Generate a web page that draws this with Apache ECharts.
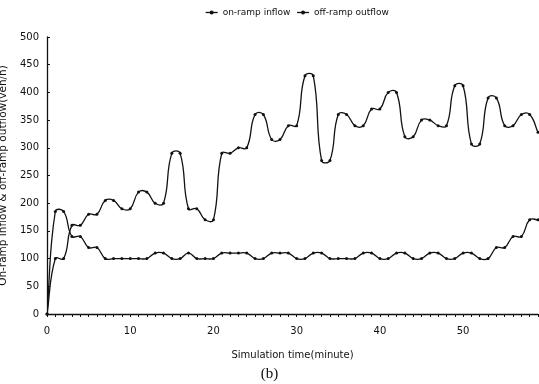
<!DOCTYPE html>
<html><head><meta charset="utf-8">
<script src="https://cdn.jsdelivr.net/npm/echarts@6/dist/echarts.min.js"></script>
<style>html,body{margin:0;padding:0;background:#fff}#c{width:539px;height:384px}</style>
</head><body><div id="c"></div>
<script>
const minutes = Array.from({length:60},(_,i)=>String(i));
const onRampInflow = [0,100,100,160,160,180,180,205,205,190,190,220,220,200,200,290,290,190,190,170,
  170,290,290,300,300,360,360,315,315,340,340,430,430,277,277,360,360,340,340,370,
  370,400,400,320,320,350,350,340,340,412,412,307,307,390,390,340,340,360,360,328];
const offRampOutflow = [0,185,185,140,140,120,120,100,100,100,100,100,100,110,110,100,100,110,100,100,
  100,110,110,110,110,100,100,110,110,110,100,100,110,110,100,100,100,100,110,110,
  100,100,110,110,100,100,110,110,100,100,110,110,100,100,120,120,140,140,170,170];
const yTicks = {min:0,max:500,step:50};
const xLabelStep = 10;

const chart = echarts.init(document.getElementById('c'));
const font = 'DejaVu Sans';
const ink = '#111';

// Excel-like smoothed curve through points mapped by the chart's own axes
function smoothCurve(values){
  return function(params, api){
    if (params.dataIndex !== 0) return null;
    const pts = values.map((v,i)=>api.coord([i, v]));
    const n = pts.length, t = 0.4;
    const dirs = pts.map((p,i)=>{
      const a = pts[Math.max(0,i-1)], b = pts[Math.min(n-1,i+1)];
      const dx = b[0]-a[0], dy = b[1]-a[1], l = Math.hypot(dx,dy) || 1;
      return [dx/l, dy/l];
    });
    let d = 'M' + pts[0][0] + ' ' + pts[0][1];
    for (let i=0;i<n-1;i++){
      const p1 = pts[i], p2 = pts[i+1];
      const L = Math.hypot(p2[0]-p1[0], p2[1]-p1[1]) * t;
      const c1 = [p1[0] + dirs[i][0]*L, p1[1] + dirs[i][1]*L];
      const c2 = [p2[0] - dirs[i+1][0]*L, p2[1] - dirs[i+1][1]*L];
      d += 'C' + c1[0] + ' ' + c1[1] + ' ' + c2[0] + ' ' + c2[1] + ' ' + p2[0] + ' ' + p2[1];
    }
    return {type:'path', shape:{pathData:d}, style:{stroke:ink, fill:null, lineWidth:1.3}, silent:true};
  };
}

const legendLine = {color:ink,width:1.3,opacity:1};
chart.setOption({
  animation:false,
  backgroundColor:'#fff',
  title:{text:'(b)',left:'center',top:362,textStyle:{fontFamily:'Liberation Serif',fontSize:15,fontWeight:'normal',color:ink}},
  legend:{top:3,left:200,itemWidth:12,itemHeight:5,itemGap:6,
    textStyle:{fontFamily:font,fontSize:9,color:ink},
    data:[{name:'on-ramp inflow',lineStyle:legendLine},{name:'off-ramp outflow',lineStyle:legendLine}]},
  grid:{left:47,right:1,top:37,bottom:70,containLabel:false,outerBoundsMode:'none'},
  xAxis:{type:'category',data:minutes,boundaryGap:false,
    name:'Simulation time(minute)',nameLocation:'middle',nameGap:36,
    nameTextStyle:{fontFamily:font,fontSize:10,color:ink},
    axisLine:{lineStyle:{color:ink,width:1.3}},
    axisTick:{interval:0,length:3,lineStyle:{color:ink}},
    axisLabel:{interval:(i)=>i%xLabelStep===0,fontFamily:font,fontSize:10,color:ink,margin:12},
    splitLine:{show:false}},
  yAxis:{type:'value',min:yTicks.min,max:yTicks.max,interval:yTicks.step,
    name:'On-ramp inflow & off-ramp outflow(veh/h)',nameLocation:'middle',nameGap:30,
    nameTextStyle:{fontFamily:font,fontSize:10.5,color:ink},
    axisLine:{show:true,lineStyle:{color:ink,width:1.3}},
    axisTick:{show:true,length:3,inside:true,lineStyle:{color:ink}},
    axisLabel:{fontFamily:font,fontSize:10,color:ink,margin:8},
    splitLine:{show:false}},
  series:[
    {name:'on-ramp inflow',type:'line',data:onRampInflow,symbol:'circle',symbolSize:3,
      itemStyle:{color:ink},lineStyle:{opacity:0}},
    {name:'off-ramp outflow',type:'line',data:offRampOutflow,symbol:'circle',symbolSize:3,
      itemStyle:{color:ink},lineStyle:{opacity:0}},
    {type:'custom',renderItem:smoothCurve(onRampInflow),data:[0],clip:true,silent:true,z:1},
    {type:'custom',renderItem:smoothCurve(offRampOutflow),data:[0],clip:true,silent:true,z:1}
  ]
});
</script></body></html>
